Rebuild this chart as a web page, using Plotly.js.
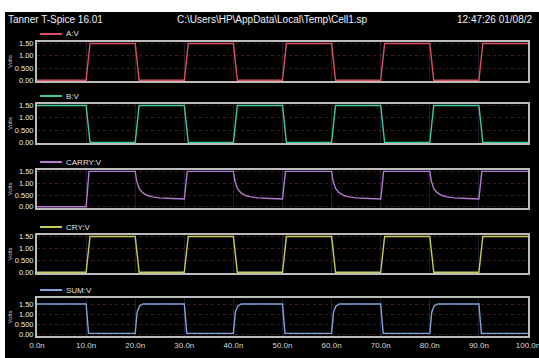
<!DOCTYPE html>
<html><head><meta charset="utf-8">
<script src="https://cdn.plot.ly/plotly-3.0.1.min.js"></script>
<style>
html,body{margin:0;padding:0;background:#fff;width:539px;height:358px;overflow:hidden}
#plot{position:absolute;left:5px;top:12px;width:546px;height:346px}
</style></head><body>
<div id="plot"></div>
<script>
// ---- data (time in ns, voltage in V) ----
const tA = [0,10,10.8,20,20.8,30,30.8,40,40.8,50,50.8,60,60.8,70,70.8,80,80.8,90,90.8,100];
const vA = [0,0,1.5,1.5,0,0,1.5,1.5,0,0,1.5,1.5,0,0,1.5,1.5,0,0,1.5,1.5];
const tB = [0,10,10.8,20,20.8,30,30.8,40,40.8,50,50.8,60,60.8,70,70.8,80,80.8,90,90.8,100];
const vB = [1.5,1.5,0,0,1.5,1.5,0,0,1.5,1.5,0,0,1.5,1.5,0,0,1.5,1.5,0,0];
const tCarry = [0,10,10.6,20,20.3,20.8,21.5,22.5,23.5,25,27.5,30,30.6,40,40.3,40.8,41.5,42.5,43.5,45,47.5,50,50.6,60,60.3,60.8,61.5,62.5,63.5,65,67.5,70,70.6,80,80.3,80.8,81.5,82.5,83.5,85,87.5,90,90.6,100];
const vCarry = [0,0,1.5,1.5,1.1,0.78,0.6,0.48,0.42,0.38,0.35,0.33,1.5,1.5,1.1,0.78,0.6,0.48,0.42,0.38,0.35,0.33,1.5,1.5,1.1,0.78,0.6,0.48,0.42,0.38,0.35,0.33,1.5,1.5,1.1,0.78,0.6,0.48,0.42,0.38,0.35,0.33,1.5,1.5];
const tCry = [0,10,10.8,20,20.8,30,30.8,40,40.8,50,50.8,60,60.8,70,70.8,80,80.8,90,90.8,100];
const vCry = [0,0,1.5,1.5,0,0,1.5,1.5,0,0,1.5,1.5,0,0,1.5,1.5,0,0,1.5,1.5];
const tSum = [0,10,10.5,20,20.4,20.9,21.6,30,30.5,40,40.4,40.9,41.6,50,50.5,60,60.4,60.9,61.6,70,70.5,80,80.4,80.9,81.6,90,90.5,100];
const vSum = [1.5,1.5,0.03,0.03,1.1,1.4,1.5,1.5,0.03,0.03,1.1,1.4,1.5,1.5,0.03,0.03,1.1,1.4,1.5,1.5,0.03,0.03,1.1,1.4,1.5,1.5,0.03,0.03];

const seriesNames = ['A:V','B:V','CARRY:V','CRY:V','SUM:V'];
const seriesColors = ['#d9505e','#3fc9a2','#b27ad0','#c9cc55','#7fa4dc'];
const seriesT = [tA,tB,tCarry,tCry,tSum];
const seriesV = [vA,vB,vCarry,vCry,vSum];
const xTickVals = [0,10,20,30,40,50,60,70,80,90,100];
const xTickText = ['0.0n','10.0n','20.0n','30.0n','40.0n','50.0n','60.0n','70.0n','80.0n','90.0n','100.0n'];
const yTickVals = [0,0.5,1,1.5];
const yTickText = ['0.00','0.500','1.00','1.50'];
const yRanges = [[-0.03,1.56],[-0.02,1.56],[-0.05,1.56],[-0.03,1.56],[-0.1,1.8]];

// ---- layout ----
const W = 546, H = 346, ML = 32, MR = 23, MT = 30, MB = 22;
const PW = W-ML-MR, PH = H-MT-MB;
const panelPix = [[30,69],[92,131],[158,196],[223,261],[286,324]]; // top,bottom in div px
const fy = p => 1-(p-MT)/PH;
const fx = p => (p-ML)/PW;
const font = 'Liberation Sans Narrow, Liberation Sans, Arial, sans-serif';

const traces = [];
const layout = {
  width: W, height: H,
  margin: {l:ML, r:MR, t:MT, b:MB},
  paper_bgcolor: '#000', plot_bgcolor: '#000',
  showlegend: false,
  font: {family: font, color: '#e8e8e8', size: 8},
  shapes: [], annotations: []
};

for (let i=0;i<5;i++){
  const n = i+1;
  const xa = n===1?'xaxis':'xaxis'+n, ya = n===1?'yaxis':'yaxis'+n;
  traces.push({x: seriesT[i], y: seriesV[i], type:'scatter', mode:'lines',
    xaxis: 'x'+(n===1?'':n), yaxis: 'y'+(n===1?'':n),
    line:{color: seriesColors[i], width:1.4}, hoverinfo:'skip'});
  layout[xa] = {
    domain:[0,1], range:[0,100], anchor: 'y'+(n===1?'':n),
    tickvals: xTickVals, ticktext: xTickText, showticklabels: n===5,
    tickfont:{size:8, color:'#d8d8d8', family:font}, ticks:'',
    showgrid:true, gridcolor:'#1c1c2c', gridwidth:1,
    showline:true, mirror:true, linecolor:'#bcbcbc', linewidth:2, zeroline:false
  };
  layout[ya] = {
    domain:[fy(panelPix[i][1]), fy(panelPix[i][0])], range: yRanges[i],
    anchor: 'x'+(n===1?'':n),
    tickvals: yTickVals, ticktext: yTickText, ticks:'',
    tickfont:{size:7.5, color:'#ececec', family:font},
    showgrid:true, gridcolor:'#461a1a', griddash:'dot', gridwidth:1,
    showline:true, mirror:true, linecolor:'#bcbcbc', linewidth:2, zeroline:false,
    title:{text:'Volts', font:{size:6, color:'#cfcfcf', family:font}, standoff:2}
  };
  // legend swatch + label above panel
  const ly = fy(panelPix[i][0]-8);
  layout.shapes.push({type:'line', xref:'paper', yref:'paper', x0:fx(35), x1:fx(57), y0:ly, y1:ly,
    line:{color:seriesColors[i], width:2}});
  layout.annotations.push({xref:'paper', yref:'paper', x:fx(59), y:ly, xanchor:'left', yanchor:'middle',
    text: seriesNames[i], showarrow:false, font:{size:8, color:'#e0e0e0', family:font}});
}
// header
const hy = fy(8);
layout.annotations.push({xref:'paper', yref:'paper', x:fx(1), y:hy, xanchor:'left', yanchor:'middle',
  text:'Tanner T-Spice 16.01', showarrow:false, font:{size:10, color:'#f0f0f0', family:font}});
layout.annotations.push({xref:'paper', yref:'paper', x:fx(170), y:hy, xanchor:'left', yanchor:'middle',
  text:'C:\\Users\\HP\\AppData\\Local\\Temp\\Cell1.sp', showarrow:false, font:{size:10, color:'#f0f0f0', family:font}});
layout.annotations.push({xref:'paper', yref:'paper', x:fx(450), y:hy, xanchor:'left', yanchor:'middle',
  text:'12:47:26 01/08/2', showarrow:false, font:{size:10, color:'#f0f0f0', family:font}});

Plotly.newPlot('plot', traces, layout, {staticPlot:true, displayModeBar:false});
</script>
</body></html>
